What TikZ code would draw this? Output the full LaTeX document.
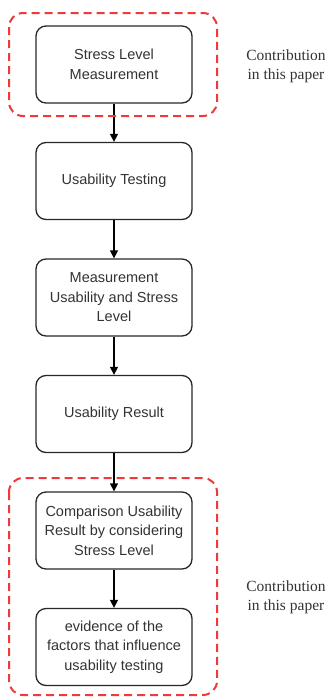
\documentclass[tikz,border=0pt]{standalone}
\usepackage{fontspec}
\setmainfont{Liberation Serif}
\setsansfont{Liberation Sans}
\usetikzlibrary{arrows.meta}
\definecolor{contribred}{RGB}{238,58,58}
\definecolor{boxline}{RGB}{40,40,40}
\tikzset{
    stepbox/.style={draw=boxline, rounded corners=10pt, minimum width=156pt, minimum height=77pt, align=center, fill=white, text=black!80, font=\sffamily\fontsize{14.5}{19.5}\selectfont},
    groupframe/.style={draw=contribred, line width=2pt, dash pattern=on 8pt off 5pt, rounded corners=14pt},
    note/.style={align=center, text=black!80, font=\rmfamily\fontsize{15.5}{19}\selectfont}
}
\begin{document}
\begin{tikzpicture}[x=1pt, y=-1pt, line width=1.3pt, >={Triangle[length=8pt,width=8pt]}]
        \useasboundingbox (0,0) rectangle (328,697);
        % Steps
        \foreach \i/\txt in {1/{Stress Level\\Measurement}, 2/{Usability Testing}, 3/{Measurement\\Usability and Stress\\Level}, 4/{Usability Result}, 5/{Comparison Usability\\Result by considering\\Stress Level}, 6/{evidence of the\\factors that influence\\usability testing}} {
            \node[stepbox] (step\i) at (114, 64.5+116.5*\i-116.5) {\txt};
        }
        
        % Connections between steps
        \foreach \i in {1,...,5} {
            \pgfmathtruncatemacro{\j}{\i+1}
            \draw[->] (step\i) -- (step\j);
        }
        
        % Contribution frames
        \draw[groupframe] (9,13) rectangle (217,116);
        \draw[groupframe] (9,478) rectangle (217,695);
        \node[note] (contrib1) at (286,66) {Contribution\\in this paper};
        \node[note] (contrib2) at (286,597) {Contribution\\in this paper};
    \end{tikzpicture}
\end{document}
